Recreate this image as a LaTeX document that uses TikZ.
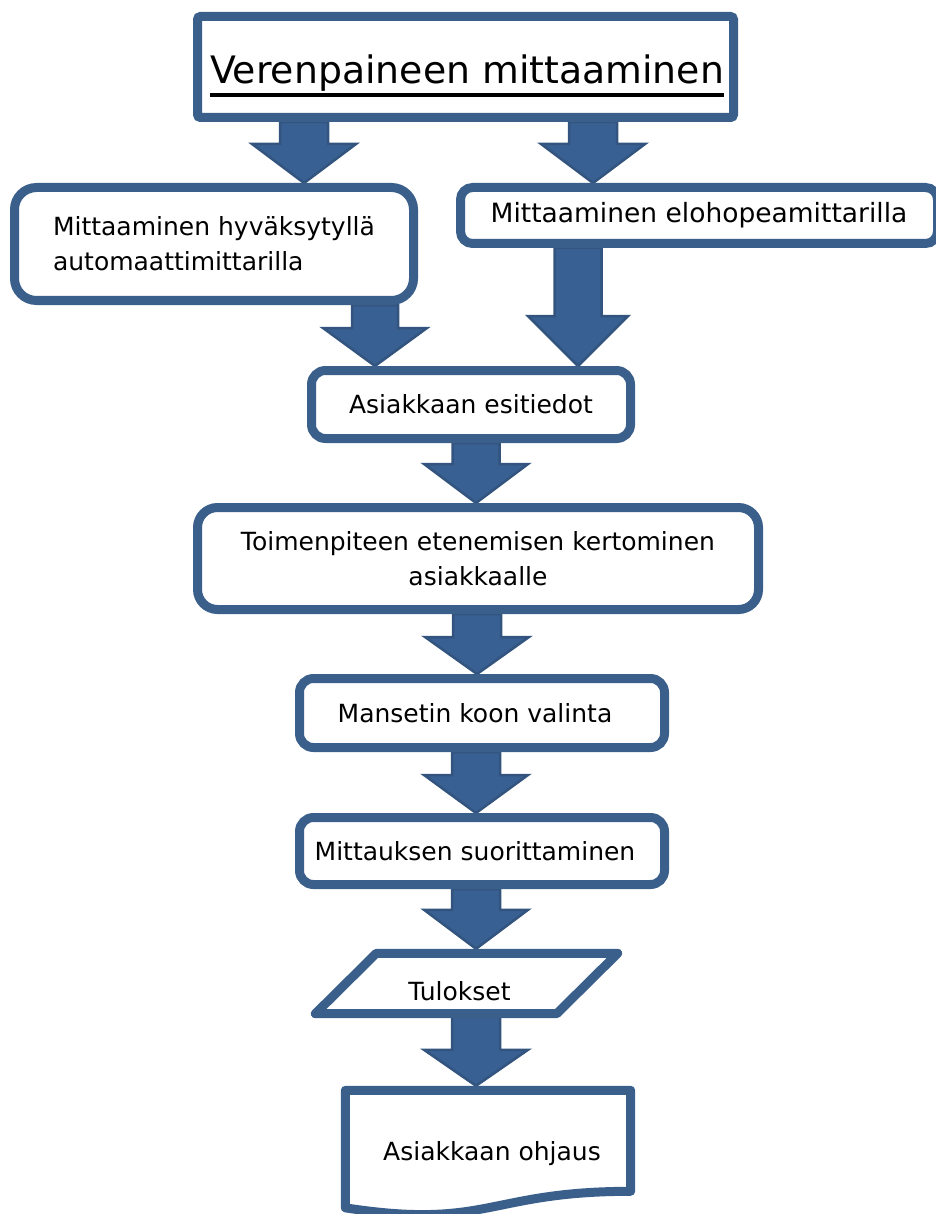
\documentclass[tikz,border=0pt]{standalone}
\usepackage{fontspec}
\setmainfont{DejaVu Sans}
\usetikzlibrary{calc}
\pgfdeclarelayer{back}
\pgfsetlayers{back,main}

\definecolor{boxblue}{RGB}{58,95,139}
\definecolor{arrowfill}{RGB}{57,96,146}
\definecolor{arrowedge}{RGB}{50,84,126}

\newcommand\bodyfont{\fontsize{25}{35}\selectfont}

\tikzset{
  flowbox/.style={draw=boxblue, line width=9pt, fill=white, inner sep=0pt,
    align=center, font=\bodyfont},
  shapeline/.style={draw=boxblue, line width=9pt, line join=round},
  plainlabel/.style={inner sep=0pt, font=\bodyfont},
  blockarrow/.style={fill=arrowfill, draw=arrowedge, line width=2.5pt, line join=miter}
}

% block arrow: #1 x of the axis, #2 start anchor, #3 end anchor,
% #4 half shaft width, #5 half head width, #6 head length
\newcommand\blockarrow[6]{%
  \filldraw[blockarrow] let \p1=(#2), \p2=(#3) in
    ({(#1-#4)*1pt},\y1) -- ({(#1+#4)*1pt},\y1) -- ({(#1+#4)*1pt},{\y2+#6pt})
    -- ({(#1+#5)*1pt},{\y2+#6pt}) -- ({#1*1pt},\y2) -- ({(#1-#5)*1pt},{\y2+#6pt})
    -- ({(#1-#4)*1pt},{\y2+#6pt}) -- cycle;}

\begin{document}
\begin{tikzpicture}[x=1pt, y=-1pt]
\useasboundingbox (0,0) rectangle (935,1214);

% title box
\node[flowbox, rounded corners=3pt, minimum width=536pt, minimum height=101pt] (top) at (465.5,67) {};
\node[inner sep=0pt, anchor=base, font=\fontsize{37.8}{44}\selectfont] (title) at (467,84) {Verenpaineen mittaaminen};
\draw[line width=3.5pt] ([yshift=-11pt]title.base west) -- ([yshift=-11pt]title.base east);

% the two measuring methods
\node[flowbox, rounded corners=22pt, minimum width=399pt, minimum height=113pt, align=left] (mauto) at (214,244)
  {Mittaaminen hyväksytyllä\\automaattimittarilla};
\node[flowbox, rounded corners=12pt, minimum width=477pt, minimum height=56pt,
  font=\fontsize{26.5}{35}\selectfont] (mhg) at (699,215.5) {Mittaaminen elohopeamittarilla};

% main sequence
\node[flowbox, rounded corners=14pt, minimum width=319pt, minimum height=68pt] (esit) at (471,404.5) {Asiakkaan esitiedot};
\node[flowbox, rounded corners=20pt, minimum width=561pt, minimum height=102pt] (toim) at (478,558.5)
  {Toimenpiteen etenemisen kertominen\\asiakkaalle};
\node[flowbox, rounded corners=14pt, minimum width=365pt, minimum height=69pt] (mans) at (482,713) {Mansetin koon valinta\hspace*{14pt}};
\node[flowbox, rounded corners=14pt, minimum width=365pt, minimum height=67pt] (mitt) at (482,851) {Mittauksen suorittaminen\hspace*{14pt}};

% data (parallelogram)
\node[plainlabel, minimum width=241pt, minimum height=60pt, text height=33pt, text depth=0pt] (tul) at (466.5,983.5) {Tulokset\hspace*{14pt}};
\draw[shapeline] ([xshift=30.5pt]tul.north west) -- ([xshift=30.5pt]tul.north east)
  -- ([xshift=-30.5pt]tul.south east) -- ([xshift=-30.5pt]tul.south west) -- cycle;

% document shape
\node[plainlabel, minimum width=285pt, minimum height=117.5pt, text height=24pt, text depth=2.5pt] (ohj) at (488,1149.25) {\hspace*{8pt}Asiakkaan ohjaus};
\draw[shapeline] (ohj.north west) -- (ohj.north east) -- ($(ohj.north east)+(0,101)$)
  .. controls ($(ohj.north)+(0,101)$) and ($(ohj.north)+(0,139.5)$) .. ($(ohj.north west)+(0,117.5)$) -- cycle;

% block arrows behind the boxes
\begin{pgfonlayer}{back}
\blockarrow{304}{top.south}{mauto.north}{24}{52}{39}
\blockarrow{593}{top.south}{mhg.north}{24}{52}{39}
\blockarrow{375}{mauto.south}{esit.north}{23}{52}{38}
\blockarrow{578}{mhg.south}{esit.north}{23.5}{50}{50}
\blockarrow{476}{esit.south}{toim.north}{23.5}{52}{39}
\blockarrow{477}{toim.south}{mans.north}{24}{52}{37}
\blockarrow{476}{mans.south}{mitt.north}{24}{52}{38}
\blockarrow{476}{mitt.south}{[yshift=4.5pt]tul.north}{24}{52}{39}
\blockarrow{476}{tul.south}{[yshift=4.5pt]ohj.north}{24}{52}{36}
\end{pgfonlayer}
\end{tikzpicture}
\end{document}
